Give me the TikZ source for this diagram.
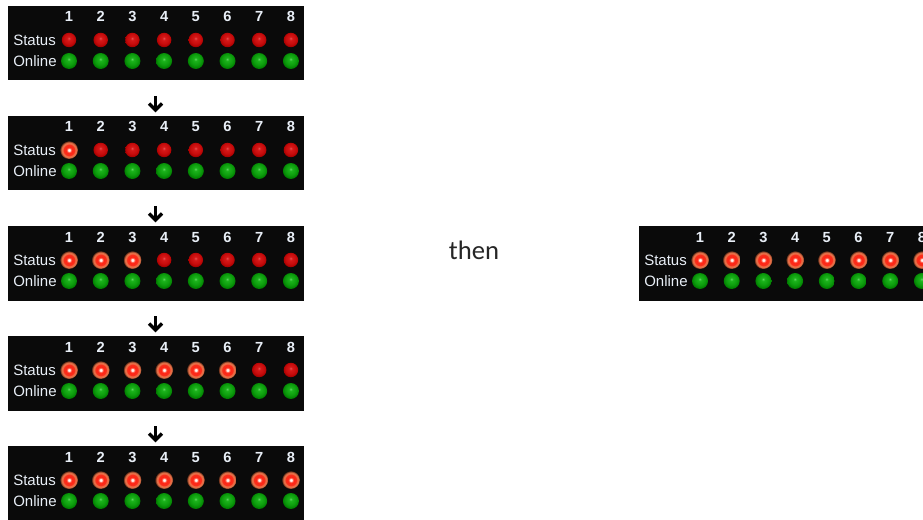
\documentclass[tikz,border=0pt]{standalone}
\usepackage{fontspec}
\setmainfont{Carlito}
\newfontfamily\hv{Liberation Sans}
\usetikzlibrary{calc}

\definecolor{litA}{RGB}{255,250,245}
\definecolor{litB}{RGB}{255,120,100}
\definecolor{litC}{RGB}{255,35,20}
\definecolor{litD}{RGB}{248,48,28}
\definecolor{litE}{RGB}{238,112,72}
\definecolor{litF}{RGB}{215,112,72}
\definecolor{litG}{RGB}{110,50,28}
\definecolor{litH}{RGB}{15,10,8}

\definecolor{roA}{RGB}{235,90,90}
\definecolor{roB}{RGB}{215,25,25}
\definecolor{roC}{RGB}{198,12,12}
\definecolor{roD}{RGB}{170,0,0}
\definecolor{roE}{RGB}{125,0,0}
\definecolor{roF}{RGB}{25,0,0}

\definecolor{grA}{RGB}{100,215,100}
\definecolor{grB}{RGB}{28,180,28}
\definecolor{grC}{RGB}{12,155,12}
\definecolor{grD}{RGB}{0,125,0}
\definecolor{grE}{RGB}{0,85,0}
\definecolor{grF}{RGB}{0,20,0}

\pgfdeclareradialshading{litled}{\pgfpoint{0bp}{0bp}}{%
color(0bp)=(litA);
color(2.5bp)=(litA);
color(5bp)=(litB);
color(8bp)=(litC);
color(15bp)=(litD);
color(18bp)=(litE);
color(21.5bp)=(litF);
color(24bp)=(litG);
color(25bp)=(litH);
color(50bp)=(litH)}

\pgfdeclareradialshading{redoff}{\pgfpoint{-1bp}{6bp}}{%
color(0bp)=(roA);
color(5bp)=(roB);
color(18bp)=(roC);
color(26bp)=(roD);
color(30bp)=(roE);
color(60bp)=(roF)}

\pgfdeclareradialshading{greenled}{\pgfpoint{-1bp}{6bp}}{%
color(0bp)=(grA);
color(5bp)=(grB);
color(18bp)=(grC);
color(26bp)=(grD);
color(30bp)=(grE);
color(60bp)=(grF)}

\definecolor{panelbg}{RGB}{10,10,10}
\definecolor{lbltext}{RGB}{232,238,246}

\tikzset{
  panelbox/.style={fill=panelbg, draw=none, minimum width={296*0.75pt}, minimum height={74.5*0.75pt}, inner sep=0pt, outer sep=0pt},
  lbl/.style={text=lbltext, font=\hv\fontsize{11.25pt}{12pt}\selectfont, inner sep=0pt},
  num/.style={text=lbltext, font=\hv\bfseries\fontsize{11pt}{12pt}\selectfont, inner sep=0pt},
  ledoff/.style={circle, shading=redoff, minimum size={14.5*0.75pt}, inner sep=0pt},
  ledlit/.style={circle, shading=litled, minimum size={18*0.75pt}, inner sep=0pt},
  ledgreen/.style={circle, shading=greenled, minimum size={16*0.75pt}, inner sep=0pt},
  downarrow/.style={line width={3.5*0.75pt}, line join=miter, line cap=butt, draw=black},
  thentext/.style={font=\fontsize{20pt}{24pt}\selectfont, text=black!85, inner sep=0pt}
}

\newcommand\ledpanel[4]{%
  \node[panelbox, anchor=north west] (#1) at (#2,#3) {};
  \node[lbl, anchor=west] (#1-st) at ($(#2,#3)+(5,34)$) {Status};
  \node[lbl, anchor=west] (#1-on) at ($(#2,#3)+(5,55)$) {Online};
  \foreach \i in {1,...,8} {
    \pgfmathsetmacro\xx{#2+61+31.7*(\i-1)}
    \node[num, anchor=base] (#1-n\i) at (\xx,#3+16) {\i};
    \ifnum\i>#4\relax
      \node[ledoff] (#1-s\i) at (\xx,#3+34) {};
    \else
      \node[ledlit] (#1-s\i) at (\xx,#3+34) {};
    \fi
    \node[ledgreen] (#1-g\i) at (\xx,#3+55) {};
  }
}

\newcommand\downarr[2]{% #1 name, #2 top y
  \coordinate (#1-top) at (155.5,#2);
  \coordinate (#1-tip) at (155.5,#2+14);
  \coordinate (#1-l) at (149,#2+7.5);
  \coordinate (#1-r) at (162,#2+7.5);
  \draw[downarrow] (#1-top) -- (#1-tip);
  \draw[downarrow] (#1-l) -- (#1-tip) -- (#1-r);
}

\begin{document}
\begin{tikzpicture}[x=0.75pt,y=-0.75pt]
\useasboundingbox (0,0) rectangle (923,520);
\fill[white] (0,0) rectangle (923,520);
\ledpanel{pa}{8}{6}{0}
\ledpanel{pb}{8}{116}{1}
\ledpanel{pc}{8}{226}{3}
\ledpanel{pd}{8}{336}{6}
\ledpanel{pe}{8}{446}{8}
\ledpanel{pf}{639}{226}{8}
\downarr{aa}{96}
\downarr{ab}{206}
\downarr{ac}{316}
\downarr{ad}{426}
\node[thentext, anchor=base] (then) at (474,259) {then};
\end{tikzpicture}
\end{document}
